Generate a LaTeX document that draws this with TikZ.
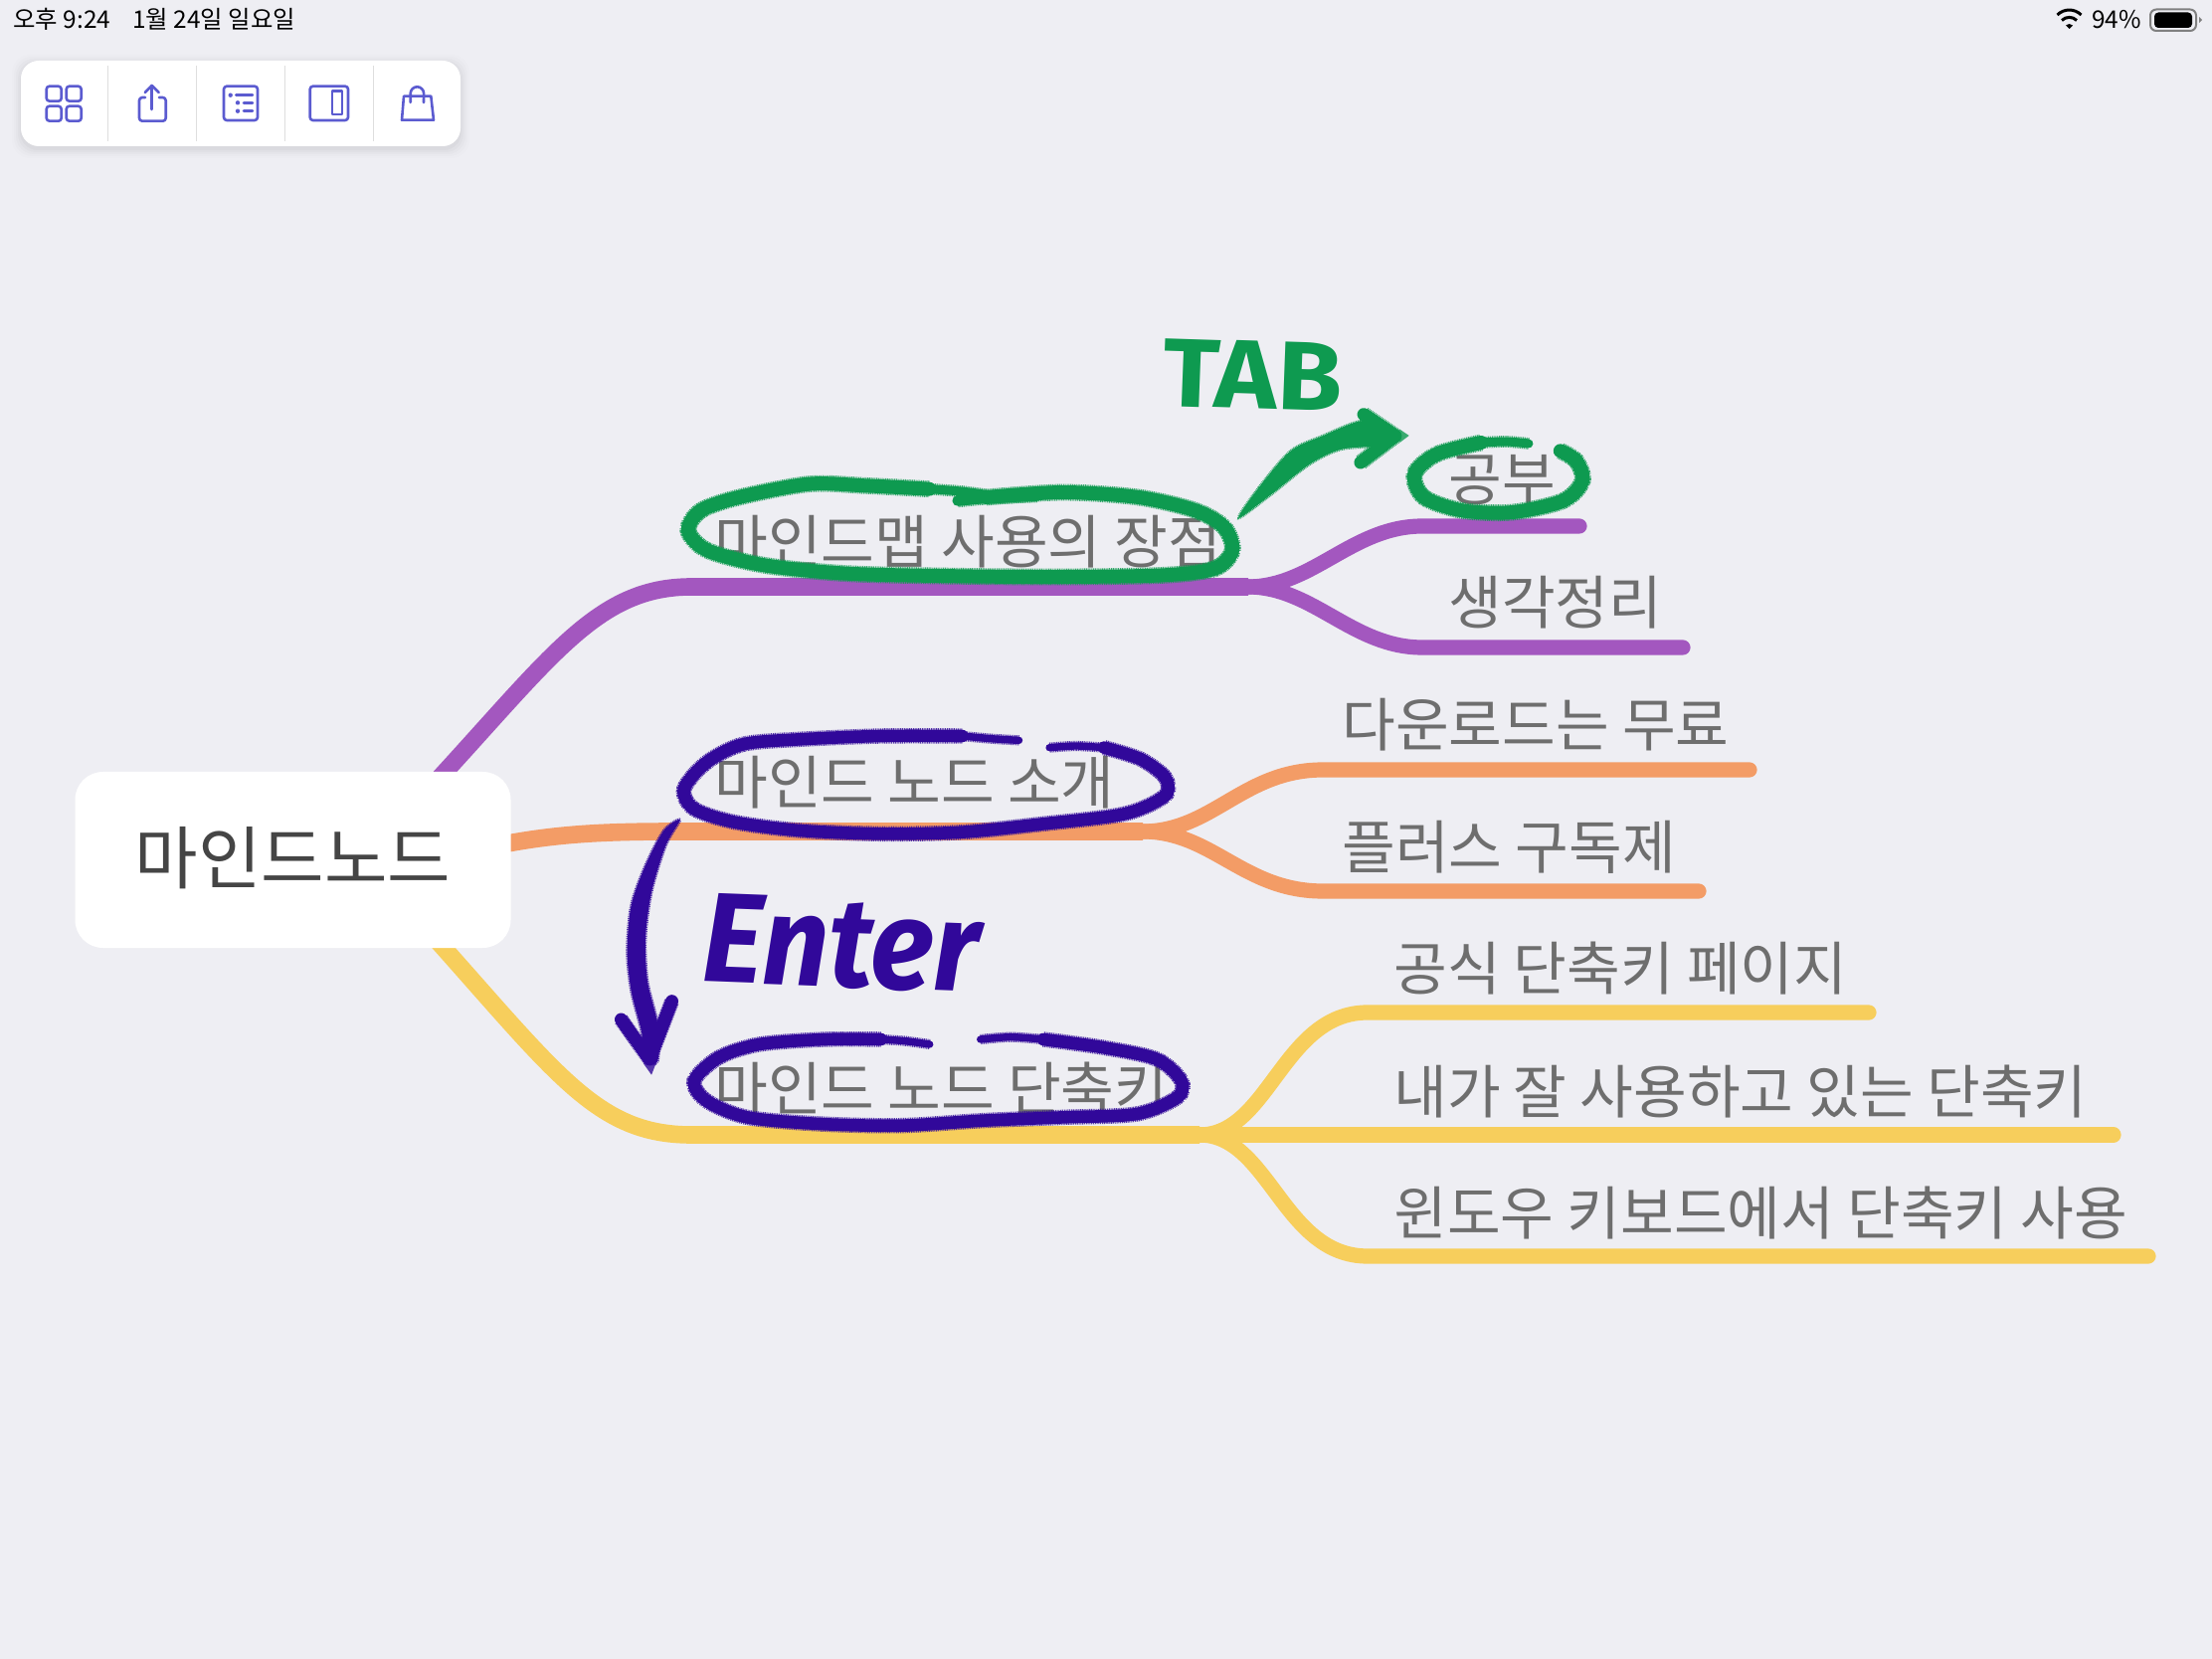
\documentclass[tikz,border=0pt]{standalone}
\usepackage{fontspec}
\newfontfamily\kr{Noto Sans CJK KR}
\newfontfamily\hand{Fira Sans}
\definecolor{bgc}{HTML}{EEEEF3}
\definecolor{pur}{HTML}{A357BF}
\definecolor{ora}{HTML}{F39C66}
\definecolor{yel}{HTML}{F7CE5C}
\definecolor{lab}{HTML}{6E6E6E}
\definecolor{rootc}{HTML}{454545}
\definecolor{grn}{HTML}{0E9A50}
\definecolor{ind}{HTML}{31089A}
\definecolor{ico}{HTML}{5B5BD0}
\pgfdeclarelayer{bglayer}
\pgfdeclarelayer{branch}
\pgfdeclarelayer{ink}
\pgfsetlayers{bglayer,branch,main,ink}
\newcommand{\inkstroke}[3]{%
  \draw[#1,opacity=.8,line width=#2 pt+.9pt,line cap=butt,dash pattern=on .5pt off .4pt] plot[smooth] coordinates {#3};
  \draw[#1,line width=#2 pt-.5pt,line cap=round,line join=round] plot[smooth] coordinates {#3};
}
\tikzset{
  lbl/.style={anchor=base west,inner sep=0pt,text=lab,font=\kr\fontsize{29.2}{30}\selectfont},
  trunk/.style={line width=8.8pt,line cap=butt},
  twig/.style={line width=7.6pt,line cap=round},
  icon/.style={draw=ico,line width=1.3pt,line cap=round,line join=round},
  status/.style={anchor=west,inner sep=0pt,text=black,font=\kr\fontsize{12.2}{14}\selectfont},
  inkedge/.style={line width=1.4pt,dash pattern=on .5pt off .4pt,opacity=.8},
  zoomA/.style={shift={(660,310)},x=0.31888pt,y=-0.16667pt},
  zoomB/.style={shift={(600,710)},x=0.20408pt,y=-0.16667pt},
}
\begin{document}
\begin{tikzpicture}[x=0.5pt,y=-0.5pt]
\useasboundingbox (0,0) rectangle (2224,1668);
\begin{pgfonlayer}{bglayer}
\fill[bgc] (0,0) rectangle (2224,1668);
\end{pgfonlayer}

% status bar
\node[status] (st1) at (13,19.5) {오후 9:24\hspace{.9em}1월 24일 일요일};
\node[status] (st2) at (2103,19.5) {94\%};
\fill (2080.5,29) ++(-3.5,-3.5) -- (2080.5,29) -- ++(3.5,-3.5) arc[start angle=45,end angle=135,radius=2.5pt] -- cycle;
\draw[line width=1.5pt] (2088,20.5) arc[start angle=45,end angle=135,radius=5.3pt];
\draw[line width=1.5pt] (2092.5,15) arc[start angle=45,end angle=135,radius=8.5pt];
\draw[draw=gray,line width=1pt,rounded corners=3pt] (2162,9.5) rectangle (2208,31);
\fill[black,rounded corners=2pt] (2166,12.5) rectangle (2204,28);
\fill[gray] (2211,17) -- (2214,20) -- (2211,23) -- cycle;

% toolbar
\foreach \g/\o in {9/.008,7/.01,5/.015,3/.02,1/.025}{
  \fill[black,opacity=\o,rounded corners=9pt] (21-\g,61-\g+3) rectangle (463+\g,147+\g+3);
}
\fill[white,rounded corners=9pt] (21,61) rectangle (463,147);
\foreach \x in {108.5,197.5,286.5,375}{\draw[black!13,line width=.5pt] (\x,66) -- (\x,142);}
% grid icon
\foreach \a/\b in {46.7/86.7,66.7/86.7,46.7/106.7,66.7/106.7}{
  \draw[icon,rounded corners=1.5pt] (\a,\b) rectangle ++(15,15);
}
% share icon
\draw[icon,rounded corners=1.5pt] (146,98) -- (140,98) -- (140,121.7) -- (166.7,121.7) -- (166.7,98) -- (160,98);
\draw[icon] (152.7,86) -- (152.7,110);
\draw[icon] (145.7,93) -- (152.7,86) -- (159.7,93);
% list icon
\draw[icon,rounded corners=1.5pt] (225,86.7) rectangle (259,121);
\fill[ico] (231.7,95.7) circle[radius=1.1pt] (239,103.3) circle[radius=1.1pt] (239,111.7) circle[radius=1.1pt];
\draw[icon] (237.3,95.7) -- (254,95.7) (245,103.3) -- (254,103.3) (245,111.7) -- (254,111.7);
% panel icon
\draw[icon,rounded corners=1.5pt] (311.7,86.7) rectangle (350,121);
\draw[icon] (334,91.7) rectangle (344,115);
% bag icon
\draw[icon] (406,96.7) -- (433.3,96.7) -- (436,120.7) -- (404,120.7) -- cycle;
\draw[icon] (412.7,103) -- (412.7,94) arc[start angle=180,end angle=0,radius=3.35pt] -- (426,103);

% root and labels
\node[fill=white,rounded corners=14pt,minimum width=219pt,minimum height=88.5pt,inner sep=0pt,
      text=rootc,font=\kr\fontsize{34.5}{36}\selectfont] (root) at (294.5,864.5) {\raisebox{4.5pt}{마인드노드}};

\node[lbl] (a)  at (718,567)  {마인드맵 사용의 장점};
\node[lbl] (a1) at (1456,504) {공부};
\node[lbl] (a2) at (1456,628) {생각정리};
\node[lbl] (b)  at (718,809)  {마인드 노드 소개};
\node[lbl] (b1) at (1349,751) {다운로드는 무료};
\node[lbl] (b2) at (1349,873) {플러스 구독제};
\node[lbl] (c)  at (718,1116) {마인드 노드 단축키};
\node[lbl] (c1) at (1401,995) {공식 단축키 페이지};
\node[lbl] (c2) at (1401,1119) {내가 잘 사용하고 있는 단축키};
\node[lbl] (c3) at (1401,1241) {윈도우 키보드에서 단축키 사용};

% branch anchor points
\coordinate (aS) at (430,795);
\coordinate (aM) at (695,590);
\coordinate (aJ) at (1255,590);
\coordinate (a1M) at (1430,529);
\coordinate (a1E) at (1588,529);
\coordinate (a2M) at (1430,651);
\coordinate (a2E) at (1692,651);
\coordinate (bS) at (500,850);
\coordinate (bM) at (680,836);
\coordinate (bJ) at (1149,836);
\coordinate (b1M) at (1330,774);
\coordinate (b1E) at (1759,774);
\coordinate (b2M) at (1330,896);
\coordinate (b2E) at (1708,896);
\coordinate (cS) at (430,935);
\coordinate (cM) at (695,1141);
\coordinate (cJ) at (1206,1141);
\coordinate (c1M) at (1375,1018);
\coordinate (c1E) at (1879,1018);
\coordinate (c2E) at (2125,1141);
\coordinate (c3M) at (1375,1263);
\coordinate (c3E) at (2160,1263);

\begin{pgfonlayer}{branch}
\draw[pur,trunk] (aS) .. controls (555,660) and (600,590) .. (aM) -- (aJ);
\draw[pur,twig] (aJ) .. controls +(65,0) and +(-70,0) .. (a1M) -- (a1E);
\draw[pur,twig] (aJ) .. controls +(65,0) and +(-70,0) .. (a2M) -- (a2E);
\draw[ora,trunk] (bS) .. controls (560,838) and (610,836) .. (bM) -- (bJ);
\draw[ora,twig] (bJ) .. controls +(70,0) and +(-80,0) .. (b1M) -- (b1E);
\draw[ora,twig] (bJ) .. controls +(70,0) and +(-80,0) .. (b2M) -- (b2E);
\draw[yel,trunk] (cS) .. controls (560,1080) and (600,1141) .. (cM) -- (cJ);
\draw[yel,twig] (cJ) .. controls +(70,0) and +(-85,0) .. (c1M) -- (c1E);
\draw[yel,twig] (cJ) -- (c2E);
\draw[yel,twig] (cJ) .. controls +(70,0) and +(-85,0) .. (c3M) -- (c3E);
\end{pgfonlayer}

\begin{pgfonlayer}{ink}
% handwriting
\node[inner sep=0pt,text=grn,font=\hand\bfseries\fontsize{49}{51}\selectfont,xscale=1.08,rotate=-2] (tab) at (1260,377) {TAB};
\node[inner sep=0pt,text=ind,font=\hand\bfseries\itshape\fontsize{64}{66}\selectfont,xscale=.92,rotate=-2] (enter) at (846,949) {Enter};

% green marks
\begin{scope}[zoomA]
\inkstroke{grn}{7.5}{(520,570)(640,555)(760,570)(850,610)(895,660)(908,730)(880,785)(800,805)(640,810)(480,808)(300,800)(170,775)(80,730)(50,670)(70,610)(130,570)(240,530)(330,535)(430,545)}
\inkstroke{grn}{5}{(430,545)(480,552)(520,562)}
\inkstroke{grn}{6}{(475,580)(520,572)(600,565)}
\inkstroke{grn}{7.5}{(1300,405)(1230,440)(1195,500)(1210,570)(1270,610)(1350,615)(1430,580)(1460,520)(1450,460)(1425,430)}
\inkstroke{grn}{5}{(1375,408)(1340,402)(1300,405)}
\fill[grn] plot[smooth cycle] coordinates {(918,632)(950,540)(1000,430)(1050,385)(1110,340)(1150,355)(1150,410)(1080,425)(1030,470)(970,560)};
\draw[grn,inkedge] plot[smooth cycle] coordinates {(918,632)(950,540)(1000,430)(1050,385)(1110,340)(1150,355)(1150,410)(1080,425)(1030,470)(970,560)};
\draw[grn,line width=6.5pt,line cap=round,line join=round] (1115,320) -- (1165,385) -- (1110,465);
\draw[grn,inkedge,line width=8pt,line cap=butt] (1115,320) -- (1165,385) -- (1110,465);
\end{scope}

% indigo marks
\begin{scope}[zoomB]
\inkstroke{ind}{6.8}{(900,90)(700,90)(500,100)(360,115)(270,170)(215,250)(240,310)(340,350)(500,375)(700,385)(900,380)(1100,355)(1300,325)(1400,270)(1400,215)(1340,160)(1250,125)}
\inkstroke{ind}{4.2}{(1040,103)(970,98)(900,90)}
\inkstroke{ind}{4.2}{(1250,125)(1180,120)(1115,125)}
\inkstroke{ind}{6.8}{(700,1005)(560,1005)(400,1020)(300,1060)(240,1130)(270,1190)(370,1240)(550,1260)(750,1265)(950,1250)(1150,1240)(1330,1230)(1430,1180)(1440,1130)(1380,1065)(1250,1030)(1100,1005)}
\inkstroke{ind}{4.2}{(820,1020)(760,1010)(700,1005)}
\inkstroke{ind}{4.2}{(1100,1005)(1020,998)(945,1005)}
\fill[ind] plot[smooth cycle] coordinates {(205,343)(165,375)(120,480)(85,600)(75,740)(85,860)(110,980)(120,1070)(150,1070)(150,960)(125,830)(120,700)(135,560)(170,420)};
\draw[ind,inkedge] plot[smooth cycle] coordinates {(205,343)(165,375)(120,480)(85,600)(75,740)(85,860)(110,980)(120,1070)(150,1070)(150,960)(125,830)(120,700)(135,560)(170,420)};
\draw[ind,line width=6.5pt,line cap=round,line join=round] (60,945) -- (130,1065) -- (185,890);
\draw[ind,inkedge,line width=7.5pt,line cap=butt] (60,945) -- (130,1065) -- (185,890);
\end{scope}
\end{pgfonlayer}
\end{tikzpicture}
\end{document}
